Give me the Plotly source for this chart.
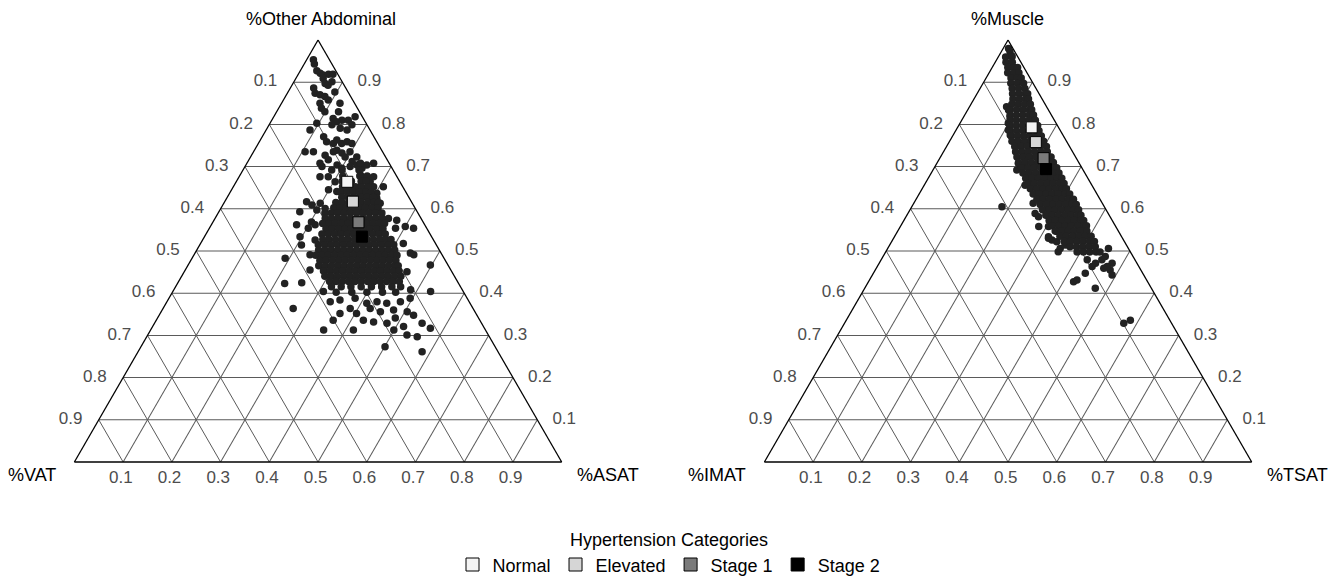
import plotly.graph_objects as go

# ---------------- Left panel: abdominal composition (a=%Other Abdominal, b=%VAT, c=%ASAT)
abd_other = [0.953,0.943,0.927,0.921,0.917,0.919,0.919,0.909,0.897,0.893,
 0.901,0.886,0.874,0.870,0.866,0.858,0.877,0.850,0.838,0.830,
 0.850,0.830,0.814,0.806,0.810,0.810,0.818,0.799,0.787,0.791,
 0.799,0.787,0.803,0.771,0.759,0.755,0.763,0.755,0.759,0.755,
 0.735,0.735,0.727,0.716,0.739,0.732,0.723,0.735,0.723,0.712,
 0.700,0.692,0.704,0.696,0.700,0.704,0.696,0.704,0.676,0.676,
 0.664,0.680,0.672,0.664,0.676,0.645,0.641,0.652,0.649,0.652,
 0.652,0.637,0.617,0.609,0.613,0.629,0.621,0.625,0.613,0.593,
 0.597,0.601,0.577,0.573,0.558,0.554,0.562,0.554,0.562,0.554,
 0.514,0.526,0.518,0.483,0.491,0.495,0.491,0.467,0.455,0.451,
 0.423,0.425,0.408,0.404,0.404,0.380,0.384,0.388,0.376,0.380,
 0.376,0.380,0.388,0.364,0.352,0.364,0.352,0.364,0.356,0.360,
 0.356,0.336,0.336,0.332,0.329,0.341,0.321,0.329,0.317,0.313,
 0.313,0.313,0.301,0.297,0.273,0.261,0.569,0.534,0.735,0.708,
 0.708,0.708,0.348]
abd_asat = [0.014,0.021,0.034,0.044,0.052,0.062,0.071,0.056,0.066,0.074,
 0.078,0.048,0.057,0.069,0.081,0.092,0.096,0.079,0.088,0.099,
 0.120,0.127,0.124,0.135,0.144,0.157,0.167,0.170,0.166,0.150,
 0.129,0.090,0.096,0.126,0.138,0.154,0.157,0.171,0.180,0.192,
 0.106,0.123,0.151,0.163,0.169,0.183,0.194,0.198,0.218,0.214,
 0.158,0.182,0.187,0.201,0.216,0.228,0.242,0.248,0.166,0.183,
 0.203,0.247,0.261,0.275,0.276,0.199,0.218,0.260,0.276,0.288,
 0.308,0.302,0.168,0.183,0.198,0.279,0.297,0.308,0.321,0.166,
 0.199,0.214,0.356,0.375,0.400,0.419,0.175,0.203,0.213,0.382,
 0.209,0.231,0.416,0.191,0.238,0.442,0.451,0.497,0.256,0.457,
 0.220,0.254,0.486,0.529,0.309,0.335,0.353,0.382,0.412,0.431,
 0.453,0.479,0.495,0.267,0.369,0.384,0.403,0.425,0.450,0.475,
 0.505,0.363,0.425,0.448,0.477,0.488,0.515,0.549,0.572,0.355,
 0.416,0.499,0.532,0.555,0.501,0.583,0.202,0.196,0.164,0.233,
 0.260,0.150,0.522]

# dense core of the abdominal cloud, read row by row (%Other Abdominal per row, %ASAT values in it)
abd_core_other = [0.692,0.6775,0.665,0.6525,0.640,0.6275,0.615,0.6025,0.590,0.5775,
                  0.565,0.5525,0.540,0.5275,0.515,0.5025,0.490,0.4775,0.465,0.4525,
                  0.440,0.4275,0.415,0.4025]
abd_core_asat = [
 [0.203,0.238],
 [0.212,0.247,0.262],
 [0.217,0.236,0.256,0.266],
 [0.224,0.237,0.250,0.263,0.276],
 [0.226,0.239,0.252,0.265,0.278,0.289],
 [0.235,0.248,0.261,0.274,0.287,0.300],
 [0.229,0.242,0.255,0.268,0.281,0.294,0.307,0.316],
 [0.231,0.244,0.257,0.270,0.283,0.296,0.309,0.322],
 [0.219,0.232,0.245,0.258,0.271,0.284,0.297,0.310,0.323,0.336],
 [0.226,0.239,0.252,0.265,0.278,0.291,0.304,0.317,0.330,0.343],
 [0.227,0.240,0.253,0.266,0.279,0.292,0.305,0.318,0.331,0.344,0.354],
 [0.240,0.253,0.266,0.279,0.292,0.305,0.318,0.331,0.344,0.357],
 [0.238,0.251,0.264,0.277,0.290,0.303,0.316,0.329,0.342,0.355,0.368],
 [0.246,0.259,0.272,0.285,0.298,0.311,0.324,0.337,0.350,0.363,0.376,0.386],
 [0.243,0.256,0.269,0.282,0.295,0.308,0.321,0.334,0.347,0.360,0.373,0.386,0.398],
 [0.250,0.263,0.276,0.289,0.302,0.315,0.328,0.341,0.354,0.367,0.380,0.393,0.406],
 [0.250,0.263,0.276,0.289,0.302,0.315,0.328,0.341,0.354,0.367,0.380,0.393,0.406,0.417],
 [0.265,0.278,0.291,0.304,0.317,0.330,0.343,0.356,0.369,0.382,0.395,0.408,0.421],
 [0.269,0.282,0.295,0.308,0.321,0.334,0.347,0.360,0.373,0.386,0.399,0.412,0.425,0.432],
 [0.285,0.298,0.311,0.324,0.337,0.350,0.363,0.376,0.389,0.402,0.415,0.428,0.440],
 [0.294,0.307,0.320,0.333,0.346,0.359,0.372,0.385,0.398,0.411,0.424,0.437,0.450],
 [0.310,0.323,0.336,0.349,0.362,0.375,0.388,0.401,0.414,0.427,0.440,0.453],
 [0.320,0.340,0.360,0.381,0.402,0.423,0.444,0.462],
 [0.336,0.368,0.399,0.431,0.458],
]

# ---------------- Right panel: muscle composition (a=%Muscle, b=%IMAT, c=%TSAT)
mus_muscle = [0.980,0.972,0.962,0.834,0.818,0.803,0.775,0.842,0.787,0.708,
 0.692,0.605,0.676,0.656,0.656,0.613,0.589,0.581,0.558,0.558,
 0.534,0.526,0.546,0.530,0.522,0.526,0.498,0.506,0.514,0.506,
 0.479,0.487,0.471,0.459,0.455,0.443,0.471,0.463,0.447,0.427,
 0.431,0.412,0.329,0.336,0.479,0.463]
mus_tsat = [0.011,0.018,0.027,0.084,0.095,0.099,0.117,0.076,0.107,0.167,
 0.172,0.185,0.204,0.221,0.207,0.245,0.261,0.272,0.284,0.304,
 0.316,0.327,0.327,0.318,0.339,0.358,0.354,0.354,0.360,0.453,
 0.453,0.456,0.478,0.467,0.482,0.492,0.444,0.441,0.435,0.421,
 0.426,0.473,0.573,0.583,0.423,0.472]

mus_core_muscle = [0.960,0.9475,0.935,0.9225,0.910,0.8975,0.885,0.8725,0.860,0.8475,
                   0.835,0.8225,0.810,0.7975,0.785,0.7725,0.760,0.7475,0.735,0.7225,
                   0.710,0.6975,0.685,0.6725,0.660,0.6475,0.635,0.6225,0.610,0.5975,
                   0.585,0.5725,0.560,0.5475,0.535,0.5225,0.510,0.4975]
mus_core_tsat = [
 [0.015,0.028],
 [0.022,0.035],
 [0.032,0.045,0.052],
 [0.038,0.051,0.061],
 [0.051,0.064,0.072],
 [0.057,0.070,0.083],
 [0.066,0.079,0.092],
 [0.073,0.086,0.099,0.104],
 [0.080,0.093,0.106,0.112],
 [0.084,0.097,0.110,0.122],
 [0.087,0.100,0.113,0.126,0.131],
 [0.093,0.106,0.119,0.132,0.141],
 [0.099,0.112,0.125,0.138,0.151],
 [0.105,0.118,0.131,0.144,0.157,0.162],
 [0.112,0.125,0.138,0.151,0.164,0.171],
 [0.120,0.133,0.146,0.159,0.172,0.182],
 [0.128,0.141,0.154,0.167,0.180,0.193],
 [0.140,0.153,0.166,0.179,0.192,0.205],
 [0.148,0.161,0.174,0.187,0.200,0.213],
 [0.157,0.170,0.183,0.196,0.209,0.222,0.227],
 [0.167,0.180,0.193,0.206,0.219,0.232,0.238],
 [0.179,0.192,0.205,0.218,0.231,0.244,0.251],
 [0.188,0.201,0.214,0.227,0.240,0.253,0.262],
 [0.200,0.213,0.226,0.239,0.252,0.265,0.274],
 [0.211,0.224,0.237,0.250,0.263,0.276,0.285],
 [0.222,0.235,0.248,0.261,0.274,0.287,0.296],
 [0.234,0.247,0.260,0.273,0.286,0.299,0.309],
 [0.248,0.261,0.274,0.287,0.300,0.313,0.323],
 [0.261,0.274,0.287,0.300,0.313,0.326,0.335],
 [0.272,0.285,0.298,0.311,0.324,0.337,0.346],
 [0.285,0.298,0.311,0.324,0.337,0.350,0.357],
 [0.298,0.311,0.324,0.337,0.350,0.363,0.369],
 [0.311,0.324,0.337,0.350,0.363,0.376,0.381],
 [0.323,0.336,0.349,0.362,0.375,0.388],
 [0.339,0.352,0.365,0.378,0.391,0.403],
 [0.354,0.367,0.380,0.393,0.406,0.416],
 [0.372,0.385,0.398,0.411,0.424],
 [0.393,0.406,0.419,0.432,0.440],
]

# ---------------- Category means
categories = ["Normal", "Elevated", "Stage 1", "Stage 2"]
category_colors = ["#f4f4f4", "#d6d6d6", "#7a7a7a", "#000000"]
abd_mean_other = [0.664, 0.617, 0.568, 0.534]
abd_mean_asat = [0.228, 0.263, 0.299, 0.323]
mus_mean_muscle = [0.793, 0.758, 0.720, 0.694]
mus_mean_tsat = [0.152, 0.178, 0.213, 0.231]

tick_vals = [0.1, 0.2, 0.3, 0.4, 0.5, 0.6, 0.7, 0.8, 0.9]
tick_text = ["0.9", "0.8", "0.7", "0.6", "0.5", "0.4", "0.3", "0.2", "0.1"]

FONT = "Liberation Sans, Arial, sans-serif"
NB = "\u00a0"
TH = "\u2009"


def build(outer_a, outer_c, core_a, core_c):
    a = list(outer_a)
    c = list(outer_c)
    for ra, row in zip(core_a, core_c):
        a += [ra] * len(row)
        c += list(row)
    b = [round(1 - x - y, 4) for x, y in zip(a, c)]
    return a, b, c


fig = go.Figure()

la, lb, lc = build(abd_other, abd_asat, abd_core_other, abd_core_asat)
ra, rb, rc = build(mus_muscle, mus_tsat, mus_core_muscle, mus_core_tsat)

point_marker = dict(size=7.5, color="#222222", line=dict(width=0))
fig.add_trace(go.Scatterternary(a=la, b=lb, c=lc, mode="markers", marker=point_marker,
                                subplot="ternary", showlegend=False, hoverinfo="skip"))
fig.add_trace(go.Scatterternary(a=ra, b=rb, c=rc, mode="markers", marker=point_marker,
                                subplot="ternary2", showlegend=False, hoverinfo="skip"))

for i, cat in enumerate(categories):
    mk = dict(symbol="square", size=11, color=category_colors[i], line=dict(color="black", width=1))
    a1 = abd_mean_other[i]; c1 = abd_mean_asat[i]
    fig.add_trace(go.Scatterternary(a=[a1], b=[round(1 - a1 - c1, 4)], c=[c1], mode="markers",
                                    marker=mk, name=cat, legendgroup=cat, showlegend=False,
                                    subplot="ternary"))
    a2 = mus_mean_muscle[i]; c2 = mus_mean_tsat[i]
    fig.add_trace(go.Scatterternary(a=[a2], b=[round(1 - a2 - c2, 4)], c=[c2], mode="markers",
                                    marker=mk, name=cat, legendgroup=cat, showlegend=False,
                                    subplot="ternary2"))

# legend keys (slightly larger squares, as in the reference legend)
for i, cat in enumerate(categories):
    fig.add_trace(go.Scatterternary(a=[None], b=[None], c=[None], mode="markers",
                                    marker=dict(symbol="square", size=13, color=category_colors[i],
                                                line=dict(color="black", width=1)),
                                    name=cat, legendgroup=cat, showlegend=True, subplot="ternary"))


def axis_style(texts, ticks, ticklen):
    return dict(
        tickmode="array", tickvals=tick_vals, ticktext=texts,
        ticks=ticks, ticklen=ticklen, tickcolor="rgba(0,0,0,0)",
        showline=True, linecolor="black", linewidth=1.3,
        showgrid=True, gridcolor="#5a5a5a", gridwidth=0.8,
        tickfont=dict(size=17, color="#4d4d4d", family=FONT),
        title=dict(text=""),
    )


a_text = [t + NB * 3 for t in tick_text]
b_text = [t + NB for t in tick_text]
c_text = [NB * 2 + TH + t for t in tick_text]


def tern(xdom):
    return dict(domain=dict(x=xdom, y=[1 - 462 / 581, 1 - 40 / 581]), bgcolor="white",
                aaxis=axis_style(a_text, "", 0),
                baxis=axis_style(b_text, "", 0),
                caxis=axis_style(c_text, "", 0))


fig.update_layout(
    width=1338, height=581,
    margin=dict(l=0, r=0, t=0, b=0, autoexpand=False),
    paper_bgcolor="white",
    font=dict(family=FONT, size=17, color="black"),
    ternary=tern([0.0377, 0.4377]),
    ternary2=tern([0.5534, 0.9534]),
    legend=dict(orientation="h", x=0.5, xanchor="center", y=0.10, yanchor="top",
                title=dict(text="Hypertension Categories", side="top center",
                           font=dict(size=18, color="black", family=FONT)),
                font=dict(size=18, color="black", family=FONT), bgcolor="rgba(0,0,0,0)"),
)

corner_titles = [
    ("%Other Abdominal", 321 / 1338, 1 - 19 / 581, "center"),
    ("%VAT", 58 / 1338, 1 - 475 / 581, "right"),
    ("%ASAT", 575 / 1338, 1 - 475 / 581, "left"),
    ("%Muscle", 1008 / 1338, 1 - 19 / 581, "center"),
    ("%IMAT", 748 / 1338, 1 - 475 / 581, "right"),
    ("%TSAT", 1265 / 1338, 1 - 475 / 581, "left"),
]
for text, x, y, anchor in corner_titles:
    fig.add_annotation(text=text, x=x, y=y, xref="paper", yref="paper",
                       xanchor=anchor, yanchor="middle", showarrow=False,
                       font=dict(size=18, color="black", family=FONT))

fig.write_html("out.html", config={"displayModeBar": False},
               post_script="document.body.style.margin='0px';")
